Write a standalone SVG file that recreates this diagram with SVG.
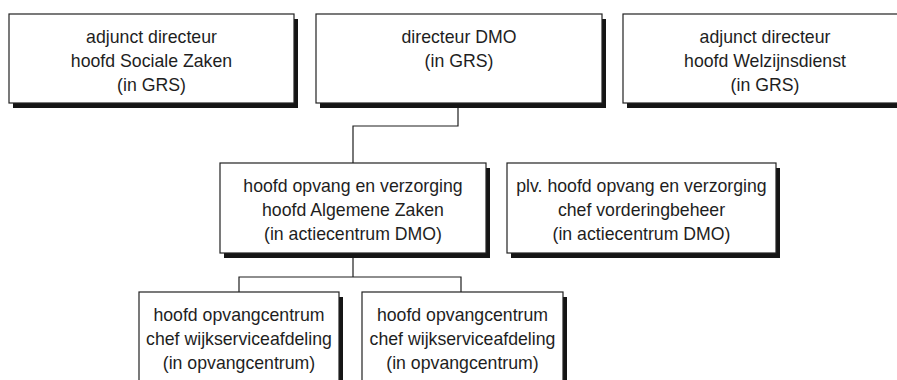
<svg xmlns="http://www.w3.org/2000/svg" width="897" height="380" viewBox="0 0 897 380">
<style>
.sh{fill:#151515;stroke:none}
.bx{fill:#fff;stroke:#222;stroke-width:1.2}
.t{font-family:"Liberation Sans",Arial,sans-serif;font-size:17.7px;fill:#1e1e1e;text-anchor:middle}
.c{fill:none;stroke:#1e1e1e;stroke-width:1.2}
</style>
<rect width="897" height="380" fill="#fff"/>
<g id="connectors">
<polyline class="c" points="458,103 458,126 353,126 353,163"/>
<polyline class="c" points="353,253 353,277"/>
<polyline class="c" points="239,292 239,277 461,277 461,292"/>
</g>
<g id="n1">
<rect class="sh" x="13" y="19" width="285" height="89"/>
<rect class="bx" x="9" y="14" width="285" height="89"/>
<text class="t" x="151.5" y="43">adjunct directeur</text>
<text class="t" x="151.5" y="67">hoofd Sociale Zaken</text>
<text class="t" x="151.5" y="91">(in GRS)</text>
</g>
<g id="n2">
<rect class="sh" x="320" y="19" width="286" height="89"/>
<rect class="bx" x="316" y="14" width="286" height="89"/>
<text class="t" x="459" y="43">directeur DMO</text>
<text class="t" x="459" y="67">(in GRS)</text>
</g>
<g id="n3">
<rect class="sh" x="627" y="19" width="284" height="89"/>
<rect class="bx" x="623" y="14" width="284" height="89"/>
<text class="t" x="765" y="43">adjunct directeur</text>
<text class="t" x="765" y="67">hoofd Welzijnsdienst</text>
<text class="t" x="765" y="91">(in GRS)</text>
</g>
<g id="n4">
<rect class="sh" x="224" y="168" width="266" height="90"/>
<rect class="bx" x="220" y="163" width="266" height="90"/>
<text class="t" x="353" y="192">hoofd opvang en verzorging</text>
<text class="t" x="353" y="216">hoofd Algemene Zaken</text>
<text class="t" x="353" y="240">(in actiecentrum DMO)</text>
</g>
<g id="n5">
<rect class="sh" x="511" y="168" width="269" height="90"/>
<rect class="bx" x="507" y="163" width="269" height="90"/>
<text class="t" x="641.5" y="192">plv. hoofd opvang en verzorging</text>
<text class="t" x="641.5" y="216">chef vorderingbeheer</text>
<text class="t" x="641.5" y="240">(in actiecentrum DMO)</text>
</g>
<g id="n6">
<rect class="sh" x="143" y="297" width="200" height="100"/>
<rect class="bx" x="139" y="292" width="200" height="100"/>
<text class="t" x="239" y="321">hoofd opvangcentrum</text>
<text class="t" x="239" y="345">chef wijkserviceafdeling</text>
<text class="t" x="239" y="369">(in opvangcentrum)</text>
</g>
<g id="n7">
<rect class="sh" x="366" y="297" width="201" height="100"/>
<rect class="bx" x="362" y="292" width="201" height="100"/>
<text class="t" x="462.5" y="321">hoofd opvangcentrum</text>
<text class="t" x="462.5" y="345">chef wijkserviceafdeling</text>
<text class="t" x="462.5" y="369">(in opvangcentrum)</text>
</g>
</svg>
